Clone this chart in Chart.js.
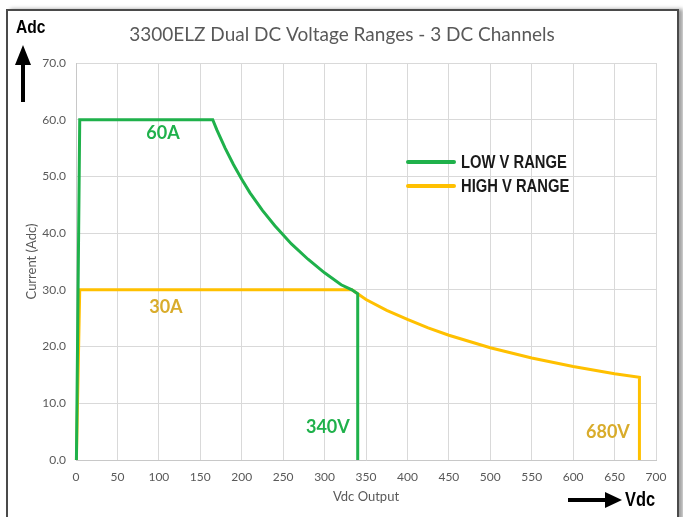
<!DOCTYPE html>
<html>
<head>
<meta charset="utf-8">
<script src="https://cdn.jsdelivr.net/npm/chart.js@4"></script>
<style>
  html, body { margin: 0; padding: 0; background: #fff; }
  #wrap { position: relative; width: 683px; height: 517px; overflow: hidden; }
  #frame { position: absolute; left: 6px; top: 9px; width: 669px; height: 520px;
           border: 2px solid #4a4a4a; border-bottom: none; box-shadow: 4px 0 4px #a0a0a0; background: #fff; }
  #c { position: absolute; left: 0; top: 0; }
</style>
</head>
<body>
<div id="wrap">
  <div id="frame"></div>
  <canvas id="c" width="683" height="517"></canvas>
</div>
<script>
  // ---- data ----
  var lowV  = [0.5, 4.5, 165, 170, 180, 190, 200, 210, 225, 240, 260, 280, 300, 320, 333, 340, 340];
  var lowA  = [0,   60,  60,  58.2, 55, 52.1, 49.5, 47.1, 44, 41.3, 38.1, 35.4, 33, 30.9, 30, 29.3, 0];
  var highV = [0.5, 4.5, 333, 350, 375, 400, 425, 450, 500, 550, 600, 650, 680, 680];
  var highA = [0,   30,  30,  28.3, 26.4, 24.8, 23.3, 22, 19.8, 18, 16.5, 15.2, 14.6, 0];
  var seriesNames = ['LOW V RANGE', 'HIGH V RANGE'];
  var xTicks = [0, 50, 100, 150, 200, 250, 300, 350, 400, 450, 500, 550, 600, 650, 700];
  var yTicks = [0, 10, 20, 30, 40, 50, 60, 70];
  // in-plot callouts: [text, volts, amps, series]
  var callouts = [['60A', 105, 57.7, 0], ['30A', 108.5, 27, 1], ['340V', 304, 5.8, 0], ['680V', 642, 4.9, 1]];

  var GREEN = '#1fb14b', GOLD = '#ffc000', GOLD_TXT = '#d9ac2b', GREY = '#595959', GRID = '#d9d9d9';
  var BASE = 'Lato, "Open Sans", sans-serif';
  var BOLD = '"Liberation Sans", Arial, sans-serif';

  function pts(xs, ys) { return xs.map(function (v, i) { return { x: v, y: ys[i] }; }); }

  // narrow bold text (Arial Narrow look) by squeezing horizontally
  function narrow(ct, txt, x, y, size) {
    ct.save(); ct.translate(x, y); ct.scale(0.82, 1);
    ct.font = 'bold ' + size + 'px ' + BOLD; ct.textAlign = 'left'; ct.textBaseline = 'middle';
    ct.fillText(txt, 0, 0); ct.restore();
  }
  function arrowUp(ct, x, y0, y1) {
    ct.beginPath(); ct.moveTo(x, y0); ct.lineTo(x, y1 + 18); ct.lineWidth = 4; ct.strokeStyle = '#000'; ct.stroke();
    ct.beginPath(); ct.moveTo(x, y1); ct.lineTo(x - 8, y1 + 20); ct.lineTo(x + 8, y1 + 20); ct.closePath(); ct.fillStyle = '#000'; ct.fill();
  }
  function arrowRight(ct, x0, x1, y) {
    ct.beginPath(); ct.moveTo(x0, y); ct.lineTo(x1 - 14, y); ct.lineWidth = 4; ct.strokeStyle = '#000'; ct.stroke();
    ct.beginPath(); ct.moveTo(x1, y); ct.lineTo(x1 - 17, y - 8); ct.lineTo(x1 - 17, y + 8); ct.closePath(); ct.fillStyle = '#000'; ct.fill();
  }

  var deco = {
    id: 'deco',
    afterDatasetsDraw: function (ch) {
      var ct = ch.ctx, xs = ch.scales.x, ys = ch.scales.y;
      ct.save();
      // title
      ct.fillStyle = GREY; ct.font = '19px ' + BASE; ct.textAlign = 'center'; ct.textBaseline = 'middle';
      ct.fillText('3300ELZ Dual DC Voltage Ranges - 3 DC Channels', 342, 35);
      // callouts
      ct.font = 'bold 18px ' + BASE;
      callouts.forEach(function (c) {
        ct.fillStyle = c[3] === 0 ? GREEN : GOLD_TXT;
        ct.fillText(c[0], xs.getPixelForValue(c[1]), ys.getPixelForValue(c[2]));
      });
      // legend
      var cols = [GREEN, GOLD];
      ct.lineCap = 'round';
      seriesNames.forEach(function (n, i) {
        var y = 162 + i * 24;
        ct.beginPath(); ct.moveTo(408, y); ct.lineTo(454, y); ct.strokeStyle = cols[i]; ct.lineWidth = 4; ct.stroke();
        ct.fillStyle = '#1a1a1a'; narrow(ct, n, 461, y + 1, 18);
      });
      // axis unit arrows
      ct.lineCap = 'butt';
      ct.fillStyle = '#000'; narrow(ct, 'Adc', 16, 28, 19);
      arrowUp(ct, 23, 102, 45);
      ct.fillStyle = '#000'; narrow(ct, 'Vdc', 625, 500, 20);
      arrowRight(ct, 568, 622, 500);
      ct.restore();
    }
  };

  new Chart(document.getElementById('c').getContext('2d'), {
    type: 'scatter',
    data: {
      datasets: [
        { label: seriesNames[0], data: pts(lowV, lowA), showLine: true, borderColor: GREEN, borderWidth: 3, pointRadius: 0, tension: 0, clip: 4 },
        { label: seriesNames[1], data: pts(highV, highA), showLine: true, borderColor: GOLD, borderWidth: 3, pointRadius: 0, tension: 0, clip: 4 }
      ]
    },
    options: {
      responsive: false, animation: false,
      layout: { padding: { left: 0, right: 27, top: 63, bottom: 0 } },
      plugins: { legend: { display: false }, tooltip: { enabled: false } },
      scales: {
        x: {
          type: 'linear', min: 0, max: 700,
          afterBuildTicks: function (s) { s.ticks = xTicks.map(function (v) { return { value: v }; }); },
          afterFit: function (s) { s.height = 57; },
          grid: { color: GRID, drawTicks: false },
          border: { color: '#c8c8c8' },
          ticks: { color: GREY, font: { family: BASE, size: 12 }, padding: 10, maxRotation: 0 },
          title: { display: true, text: 'Vdc Output', color: GREY, font: { family: BASE, size: 13 }, padding: { top: 0, bottom: 12 } }
        },
        y: {
          min: 0, max: 70,
          afterBuildTicks: function (s) { s.ticks = yTicks.map(function (v) { return { value: v }; }); },
          afterFit: function (s) { s.width = 76; },
          grid: { color: GRID, drawTicks: false },
          border: { color: '#c8c8c8' },
          ticks: { color: GREY, font: { family: BASE, size: 12 }, padding: 10, callback: function (v) { return v.toFixed(1); } },
          title: { display: true, text: 'Current (Adc)', color: GREY, font: { family: BASE, size: 13 }, padding: { top: 24, bottom: 0 } }
        }
      }
    },
    plugins: [deco]
  });
</script>
</body>
</html>
